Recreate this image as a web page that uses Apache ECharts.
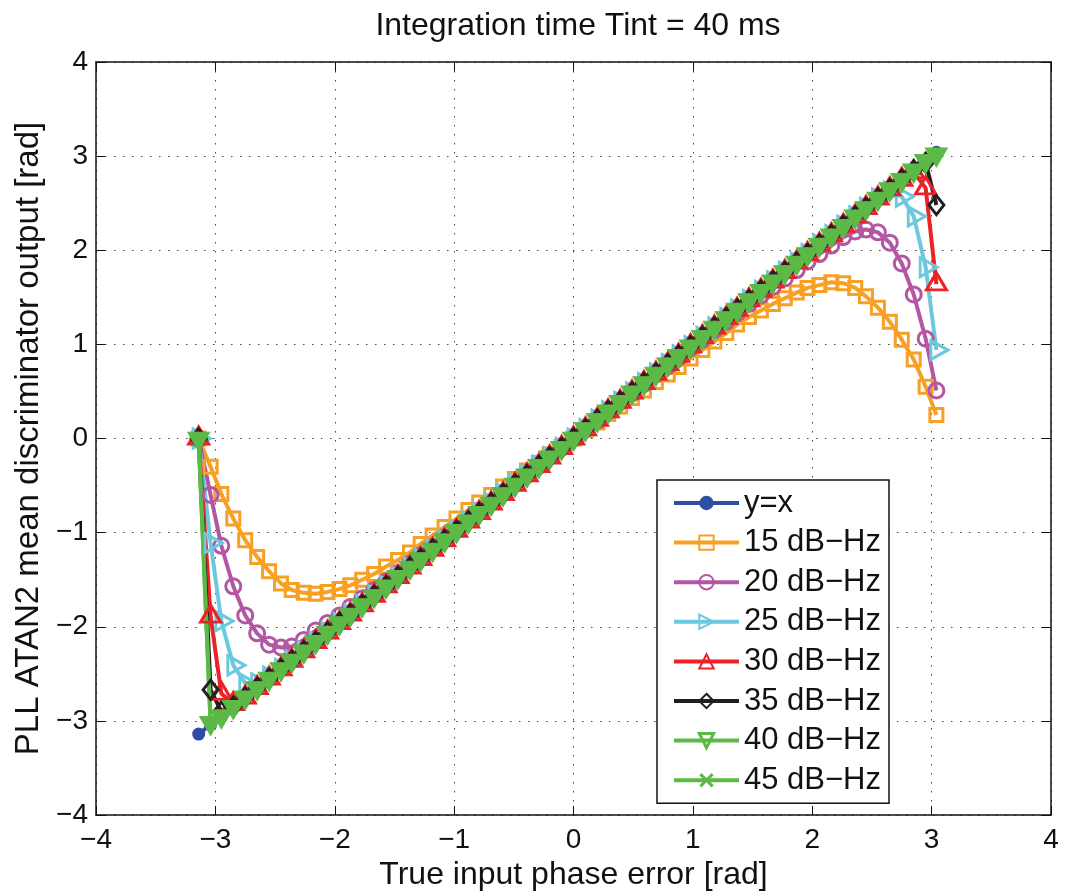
<!DOCTYPE html>
<html>
<head>
<meta charset="utf-8">
<script src="https://cdn.jsdelivr.net/npm/echarts@6/dist/echarts.min.js"></script>
<style>
html,body{margin:0;padding:0;background:#fff;}
#chart{width:1067px;height:896px;}
</style>
</head>
<body>
<div id="chart"></div>
<script>
// True input phase error [rad]
const phase = [-3.14,-3.04,-2.95,-2.85,-2.75,-2.65,-2.55,-2.45,-2.36,-2.26,-2.16,-2.06,-1.96,-1.87,-1.77,-1.67,-1.57,-1.47,-1.37,-1.28,-1.18,-1.08,-0.98,-0.88,-0.79,-0.69,-0.59,-0.49,-0.39,-0.29,-0.20,-0.10,0,0.10,0.20,0.29,0.39,0.49,0.59,0.69,0.79,0.88,0.98,1.08,1.18,1.28,1.37,1.47,1.57,1.67,1.77,1.87,1.96,2.06,2.16,2.26,2.36,2.45,2.55,2.65,2.75,2.85,2.95,3.04];

const yEqX = [-3.14,-3.04,-2.95,-2.85,-2.75,-2.65,-2.55,-2.45,-2.36,-2.26,-2.16,-2.06,-1.96,-1.87,-1.77,-1.67,-1.57,-1.47,-1.37,-1.28,-1.18,-1.08,-0.98,-0.88,-0.79,-0.69,-0.59,-0.49,-0.39,-0.29,-0.20,-0.10,0,0.10,0.20,0.29,0.39,0.49,0.59,0.69,0.79,0.88,0.98,1.08,1.18,1.28,1.37,1.47,1.57,1.67,1.77,1.87,1.96,2.06,2.16,2.26,2.36,2.45,2.55,2.65,2.75,2.85,2.95,3.04];

const cn15 = [0,-0.30,-0.59,-0.85,-1.08,-1.26,-1.41,-1.54,-1.61,-1.64,-1.65,-1.63,-1.60,-1.56,-1.50,-1.44,-1.36,-1.29,-1.21,-1.12,-1.03,-0.94,-0.85,-0.76,-0.68,-0.60,-0.51,-0.43,-0.34,-0.26,-0.17,-0.09,0,0.09,0.17,0.26,0.34,0.43,0.51,0.60,0.68,0.76,0.85,0.94,1.03,1.12,1.21,1.29,1.36,1.43,1.49,1.55,1.60,1.63,1.66,1.65,1.60,1.51,1.39,1.24,1.05,0.84,0.55,0.25];

const cn20 = [0,-0.60,-1.14,-1.57,-1.88,-2.07,-2.19,-2.22,-2.21,-2.14,-2.04,-1.96,-1.88,-1.79,-1.70,-1.61,-1.52,-1.43,-1.33,-1.24,-1.15,-1.05,-0.96,-0.86,-0.77,-0.68,-0.58,-0.48,-0.39,-0.29,-0.19,-0.10,0,0.10,0.19,0.29,0.39,0.48,0.58,0.68,0.77,0.86,0.96,1.05,1.15,1.24,1.33,1.43,1.52,1.61,1.70,1.79,1.88,1.96,2.05,2.14,2.20,2.22,2.19,2.08,1.86,1.53,1.06,0.51];

const cn25 = [0,-1.11,-1.94,-2.41,-2.60,-2.60,-2.53,-2.45,-2.36,-2.26,-2.16,-2.06,-1.96,-1.87,-1.77,-1.67,-1.57,-1.47,-1.37,-1.28,-1.18,-1.08,-0.98,-0.88,-0.79,-0.69,-0.59,-0.49,-0.39,-0.29,-0.20,-0.10,0,0.10,0.20,0.29,0.39,0.49,0.59,0.69,0.79,0.88,0.98,1.08,1.18,1.28,1.37,1.47,1.57,1.67,1.77,1.87,1.96,2.06,2.16,2.26,2.36,2.45,2.55,2.62,2.57,2.36,1.82,0.94];

const cn30 = [0,-1.89,-2.71,-2.82,-2.75,-2.65,-2.55,-2.45,-2.36,-2.26,-2.16,-2.06,-1.96,-1.87,-1.77,-1.67,-1.57,-1.47,-1.37,-1.28,-1.18,-1.08,-0.98,-0.88,-0.79,-0.69,-0.59,-0.49,-0.39,-0.29,-0.20,-0.10,0,0.10,0.20,0.29,0.39,0.49,0.59,0.69,0.79,0.88,0.98,1.08,1.18,1.28,1.37,1.47,1.57,1.67,1.77,1.87,1.96,2.06,2.16,2.26,2.36,2.45,2.55,2.65,2.75,2.83,2.66,1.64];

const cn35 = [0,-2.67,-2.90,-2.85,-2.75,-2.65,-2.55,-2.45,-2.36,-2.26,-2.16,-2.06,-1.96,-1.87,-1.77,-1.67,-1.57,-1.47,-1.37,-1.28,-1.18,-1.08,-0.98,-0.88,-0.79,-0.69,-0.59,-0.49,-0.39,-0.29,-0.20,-0.10,0,0.10,0.20,0.29,0.39,0.49,0.59,0.69,0.79,0.88,0.98,1.08,1.18,1.28,1.37,1.47,1.57,1.67,1.77,1.87,1.96,2.06,2.16,2.26,2.36,2.45,2.55,2.65,2.75,2.85,2.93,2.48];

const cn40 = [0,-3.02,-2.95,-2.85,-2.75,-2.65,-2.55,-2.45,-2.36,-2.26,-2.16,-2.06,-1.96,-1.87,-1.77,-1.67,-1.57,-1.47,-1.37,-1.28,-1.18,-1.08,-0.98,-0.88,-0.79,-0.69,-0.59,-0.49,-0.39,-0.29,-0.20,-0.10,0,0.10,0.20,0.29,0.39,0.49,0.59,0.69,0.79,0.88,0.98,1.08,1.18,1.28,1.37,1.47,1.57,1.67,1.77,1.87,1.96,2.06,2.16,2.26,2.36,2.45,2.55,2.65,2.75,2.85,2.95,3.02];

const cn45 = [0,-3.04,-2.95,-2.85,-2.75,-2.65,-2.55,-2.45,-2.36,-2.26,-2.16,-2.06,-1.96,-1.87,-1.77,-1.67,-1.57,-1.47,-1.37,-1.28,-1.18,-1.08,-0.98,-0.88,-0.79,-0.69,-0.59,-0.49,-0.39,-0.29,-0.20,-0.10,0,0.10,0.20,0.29,0.39,0.49,0.59,0.69,0.79,0.88,0.98,1.08,1.18,1.28,1.37,1.47,1.57,1.67,1.77,1.87,1.96,2.06,2.16,2.26,2.36,2.45,2.55,2.65,2.75,2.85,2.95,3.04];

const seriesNames = ['y=x','15 dB\u2212Hz','20 dB\u2212Hz','25 dB\u2212Hz','30 dB\u2212Hz','35 dB\u2212Hz','40 dB\u2212Hz','45 dB\u2212Hz'];
const axisTicks = [-4,-3,-2,-1,0,1,2,3,4];

const FONT = '"Liberation Sans", Arial, Helvetica, sans-serif';
const chart = echarts.init(document.getElementById('chart'), null, {renderer: 'canvas'});

function pairs(ys){ return phase.map((x,i)=>[x, ys[i]]); }
const minusFmt = v => String(v).replace('-', '\u2212');

const xPath = 'path://M0,1.5L1.5,0L5,3.5L8.5,0L10,1.5L6.5,5L10,8.5L8.5,10L5,6.5L1.5,10L0,8.5L3.5,5Z';
const HOLLOW = 'rgba(255,255,255,0)';

function mk(name, ys, color, symbol, size, opts){
  return Object.assign({
    name: name, type: 'line', data: pairs(ys), xAxisIndex: 0, yAxisIndex: 0,
    symbol: symbol, symbolSize: size, showAllSymbol: true,
    lineStyle: {color: color, width: 4},
    itemStyle: {color: HOLLOW, borderColor: color, borderWidth: 3},
    emphasis: {disabled: true}, animation: false, z: 2
  }, opts || {});
}

const C = {
  yx: '#2E4EA6', c15: '#F7A024', c20: '#B356A4', c25: '#6CC9DD',
  c30: '#EC2227', c35: '#231F20', c40: '#5DB946', c45: '#5DB946'
};

const series = [
  mk(seriesNames[0], yEqX, C.yx, 'circle', 13, {itemStyle: {color: C.yx, borderColor: C.yx, borderWidth: 0}}),
  mk(seriesNames[1], cn15, C.c15, 'rect', 13),
  mk(seriesNames[2], cn20, C.c20, 'circle', 15),
  mk(seriesNames[3], cn25, C.c25, 'triangle', [19,17], {symbolRotate: -90, symbolOffset: [3, 0]}),
  mk(seriesNames[4], cn30, C.c30, 'triangle', [20,17], {symbolOffset: [0, -2.8]}),
  mk(seriesNames[5], cn35, C.c35, 'diamond', [15,19]),
  mk(seriesNames[6], cn40, C.c40, 'triangle', [22,19], {symbolRotate: 180, symbolOffset: [0, 3.2], itemStyle: {color: C.c40, borderColor: C.c40, borderWidth: 1}}),
  mk(seriesNames[7], cn45, C.c45, xPath, 7, {itemStyle: {color: C.c45, borderWidth: 0}})
];

const legendData = seriesNames.map((n, i) => {
  if (i === 6) return {name: n, itemStyle: {color: HOLLOW, borderColor: C.c40, borderWidth: 3}};
  return {name: n};
});

const gridLine = {show: true, lineStyle: {color: '#444', width: 1, type: [1.5, 7.5]}};

const option = {
  backgroundColor: '#fff',
  animation: false,
  textStyle: {fontFamily: FONT},
  title: {
    text: 'Integration time Tint = 40 ms',
    left: 573, top: 5, textAlign: 'center',
    textStyle: {fontFamily: FONT, fontSize: 32, fontWeight: 'normal', color: '#111'}
  },
  grid: {left: 96, right: 16, top: 62, bottom: 81, containLabel: false},
  legend: {
    orient: 'vertical', left: 657, top: 480,
    padding: [6, 8, 6, 15],
    itemGap: 5.6, itemWidth: 65, itemHeight: 18,
    backgroundColor: '#fff', borderColor: '#111', borderWidth: 1.5,
    lineStyle: {width: 4},
    textStyle: {fontFamily: FONT, fontSize: 31, color: '#111', lineHeight: 34},
    data: legendData,
    selectedMode: false
  },
  xAxis: [{
    type: 'value', min: -4, max: 4, interval: 1, position: 'bottom',
    name: 'True input phase error [rad]', nameLocation: 'middle', nameGap: 30,
    nameTextStyle: {fontFamily: FONT, fontSize: 32, color: '#111'},
    axisLine: {show: true, onZero: false, lineStyle: {color: '#111', width: 1.5}},
    axisTick: {show: true, inside: true, length: 9, lineStyle: {color: '#111', width: 1}},
    axisLabel: {fontFamily: FONT, fontSize: 28, color: '#111', margin: 11, formatter: minusFmt},
    splitLine: gridLine
  },{
    type: 'value', min: -4, max: 4, interval: 1, position: 'top',
    axisLine: {show: true, onZero: false, lineStyle: {color: '#111', width: 1.5}},
    axisTick: {show: true, inside: true, length: 9, lineStyle: {color: '#111', width: 1}},
    axisLabel: {show: false}, splitLine: {show: false}
  }],
  yAxis: [{
    type: 'value', min: -4, max: 4, interval: 1, position: 'left',
    name: 'PLL ATAN2 mean discriminator output [rad]', nameLocation: 'middle', nameGap: 51, nameRotate: 90,
    nameTextStyle: {fontFamily: FONT, fontSize: 33, color: '#111'},
    axisLine: {show: true, onZero: false, lineStyle: {color: '#111', width: 1.5}},
    axisTick: {show: true, inside: true, length: 9, lineStyle: {color: '#111', width: 1}},
    axisLabel: {fontFamily: FONT, fontSize: 28, color: '#111', margin: 8, formatter: minusFmt},
    splitLine: gridLine
  },{
    type: 'value', min: -4, max: 4, interval: 1, position: 'right',
    axisLine: {show: true, onZero: false, lineStyle: {color: '#111', width: 1.5}},
    axisTick: {show: true, inside: true, length: 9, lineStyle: {color: '#111', width: 1}},
    axisLabel: {show: false}, splitLine: {show: false}
  }],
  series: series
};
chart.setOption(option);
</script>
</body>
</html>
